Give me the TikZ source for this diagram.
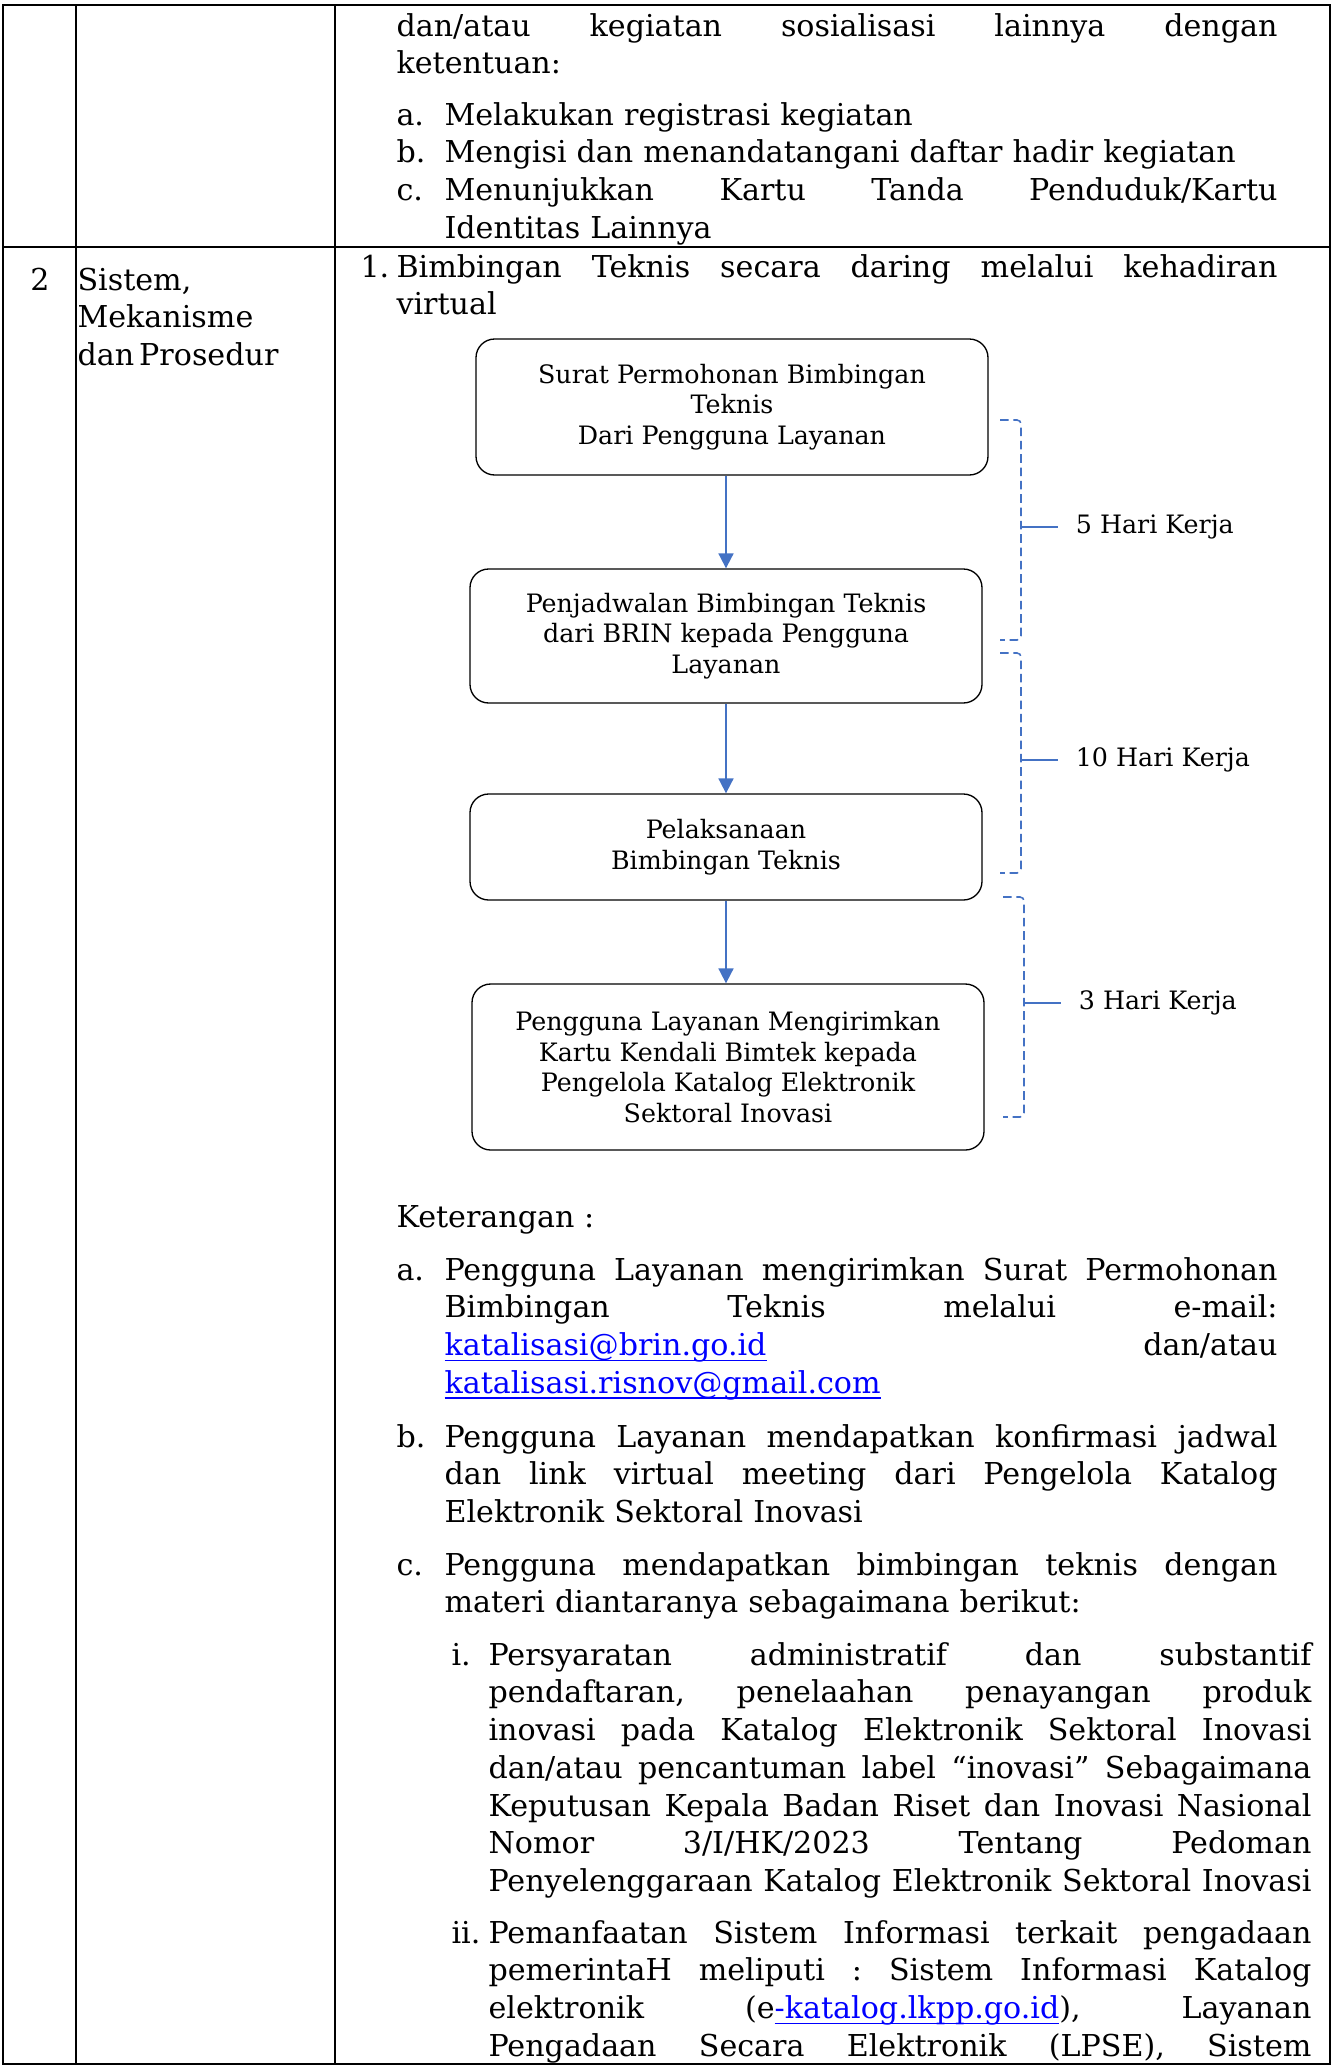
\documentclass[tikz,border=0pt]{standalone}
\usepackage{fontspec}
\setmainfont{DejaVu Serif}
\usepackage{tikz}
\usetikzlibrary{arrows.meta}

\definecolor{flowblue}{RGB}{68,114,196}
\definecolor{linkblue}{RGB}{0,0,255}
% one justified line, spaces spread evenly
\newcommand{\jl}[2][312.4pt]{\makebox[#1][s]{\frenchspacing\spaceskip=0.32em plus 1fil\relax #2}}
% link text with a close underline
\newcommand{\lnk}[1]{\textcolor{linkblue}{\setbox0\hbox{#1}\rlap{\rule[-2.2pt]{\wd0}{0.7pt}}\box0}}

\begin{document}
\begin{tikzpicture}[x=0.375pt, y=-0.375pt, font=\fontsize{11.3}{14.16}\selectfont]
		\tikzstyle{txt} = [anchor=base west, inner sep=0pt]
		\tikzstyle{wide} = [txt, text width=330.4pt]
		\tikzstyle{item} = [txt, text width=312.4pt]
		\tikzstyle{subitem} = [txt, text width=308.6pt]
		\tikzstyle{tag} = [txt, text width=15pt]
		
		\tikzstyle{flow} = [rectangle, rounded corners=7pt, minimum width=192pt, align=center, draw=black, line width=0.5pt, inner sep=2pt, font=\fontsize{9.5}{11.45}\selectfont]
		
		\tikzstyle{arrow} = [-{Triangle[length=5.6pt,width=5.6pt]}, draw=flowblue, line width=0.7pt]
		\tikzstyle{brace} = [draw=flowblue, line width=0.6pt, dash pattern=on 3.2pt off 1.8pt, rounded corners=1.5pt]
		\tikzstyle{tick} = [draw=flowblue, line width=0.6pt]
		\tikzstyle{days} = [anchor=west, inner xsep=6.5pt, inner ysep=0pt, font=\fontsize{9.5}{11.45}\selectfont]
		
		\useasboundingbox (0,0) rectangle (1332,2067);
		
		% Table lines
		\draw [line width=0.75pt] (3,5) rectangle (1330,2064);
		\draw [line width=0.75pt] (76,5) -- (76,2064);
		\draw [line width=0.75pt] (335,5) -- (335,2064);
		\draw [line width=0.75pt] (3,247) -- (1330,247);
		
		% Upper row
		\node (intro) [wide] at (396,36) {\jl[330.4pt]{dan/atau kegiatan sosialisasi lainnya dengan}\\ ketentuan:};
		\node (rulelab) [tag] at (396,125) {a.\\ b.\\ c.};
		\node (rules) [item] at (444,125) {Melakukan registrasi kegiatan\\ Mengisi dan menandatangani daftar hadir kegiatan\\ \jl{Menunjukkan Kartu Tanda Penduduk/Kartu}\\ Identitas Lainnya};
		
		% Second row, left columns
		\node (num) [anchor=base, inner sep=0pt] at (40,290) {2};
		\node (aspect) [txt, text width=90pt] at (77,290) {Sistem,\\ Mekanisme\\ dan\,Prosedur};
		
		% Heading of point 1
		\node (onelab) [txt] at (360,277) {1.};
		\node (one) [wide] at (396,277) {\jl[330.4pt]{Bimbingan Teknis secara daring melalui kehadiran}\\ virtual};
		
		% Flow boxes
		\node (surat) [flow, minimum height=51pt] at (732,407) {Surat Permohonan Bimbingan\\ Teknis\\ Dari Pengguna Layanan};
		\node (jadwal) [flow, minimum height=50.25pt] at (726,636) {Penjadwalan Bimbingan Teknis\\ dari BRIN kepada Pengguna\\ Layanan};
		\node (laksana) [flow, minimum height=39.75pt] at (726,847) {Pelaksanaan\\ Bimbingan Teknis};
		\node (kartu) [flow, minimum height=62.25pt] at (728,1067) {Pengguna Layanan Mengirimkan\\ Kartu Kendali Bimtek kepada\\ Pengelola Katalog Elektronik\\ Sektoral Inovasi};
		
		% Arrows
		\draw [arrow] (jadwal.north |- surat.south) -- (jadwal.north);
		\draw [arrow] (laksana.north |- jadwal.south) -- (laksana.north);
		\draw [arrow] (laksana.south) -- (kartu.north -| laksana.south);
		
		% Working days brackets
		\coordinate (b1top) at (1000,420);
		\coordinate (b1bot) at (1000,640);
		\coordinate (b1mid) at (1021,527);
		\node (d5) [days] at (1058,527) {5 Hari Kerja};
		\draw [brace] (b1top) -- (b1top -| b1mid) -- (b1bot -| b1mid) -- (b1bot);
		\draw [tick] (b1mid) -- (d5.west);
		
		\coordinate (b2top) at (1000,653);
		\coordinate (b2bot) at (1000,873);
		\coordinate (b2mid) at (1021,760);
		\node (d10) [days] at (1058,760) {10 Hari Kerja};
		\draw [brace] (b2top) -- (b2top -| b2mid) -- (b2bot -| b2mid) -- (b2bot);
		\draw [tick] (b2mid) -- (d10.west);
		
		\coordinate (b3top) at (1003,897);
		\coordinate (b3bot) at (1003,1117);
		\coordinate (b3mid) at (1024,1003);
		\node (d3) [days] at (1061,1003) {3 Hari Kerja};
		\draw [brace] (b3top) -- (b3top -| b3mid) -- (b3bot -| b3mid) -- (b3bot);
		\draw [tick] (b3mid) -- (d3.west);
		
		% Keterangan
		\node (ket) [txt] at (396,1227) {Keterangan :};
		\node (kalab) [txt] at (396,1280) {a.};
		\node (ka) [item] at (444,1280) {\jl{Pengguna Layanan mengirimkan Surat Permohonan}\\ \jl{Bimbingan Teknis melalui e-mail:}\\ \jl{\lnk{katalisasi@brin.go.id} dan/atau}\\ \lnk{katalisasi.risnov@gmail.com}};
		\node (kblab) [txt] at (396,1447) {b.};
		\node (kb) [item] at (444,1447) {\jl{Pengguna Layanan mendapatkan konfirmasi jadwal}\\ \jl{dan link virtual meeting dari Pengelola Katalog}\\ Elektronik Sektoral Inovasi};
		\node (kclab) [txt] at (396,1575) {c.};
		\node (kc) [item] at (444,1575) {\jl{Pengguna mendapatkan bimbingan teknis dengan}\\ materi diantaranya sebagaimana berikut:};
		
		% Materi
		\node (m1lab) [txt] at (451,1665) {i.};
		\node (m1) [subitem] at (488,1665) {\jl[308.6pt]{Persyaratan administratif dan substantif}\\ \jl[308.6pt]{pendaftaran, penelaahan penayangan produk}\\ \jl[308.6pt]{inovasi pada Katalog Elektronik Sektoral Inovasi}\\ \jl[308.6pt]{dan/atau pencantuman label “inovasi” Sebagaimana}\\ \jl[308.6pt]{Keputusan Kepala Badan Riset dan Inovasi Nasional}\\ \jl[308.6pt]{Nomor 3/I/HK/2023 Tentang Pedoman}\\ \jl[308.6pt]{Penyelenggaraan Katalog Elektronik Sektoral Inovasi}};
		\node (m2lab) [txt] at (451,1943) {ii.};
		\node (m2) [subitem] at (488,1943) {\jl[308.6pt]{Pemanfaatan Sistem Informasi terkait pengadaan}\\ \jl[308.6pt]{pemerintaH meliputi : Sistem Informasi Katalog}\\ \jl[308.6pt]{elektronik (e\lnk{-katalog.lkpp.go.id}), Layanan}\\ \jl[308.6pt]{Pengadaan Secara Elektronik (LPSE), Sistem}};
\end{tikzpicture}
\end{document}
